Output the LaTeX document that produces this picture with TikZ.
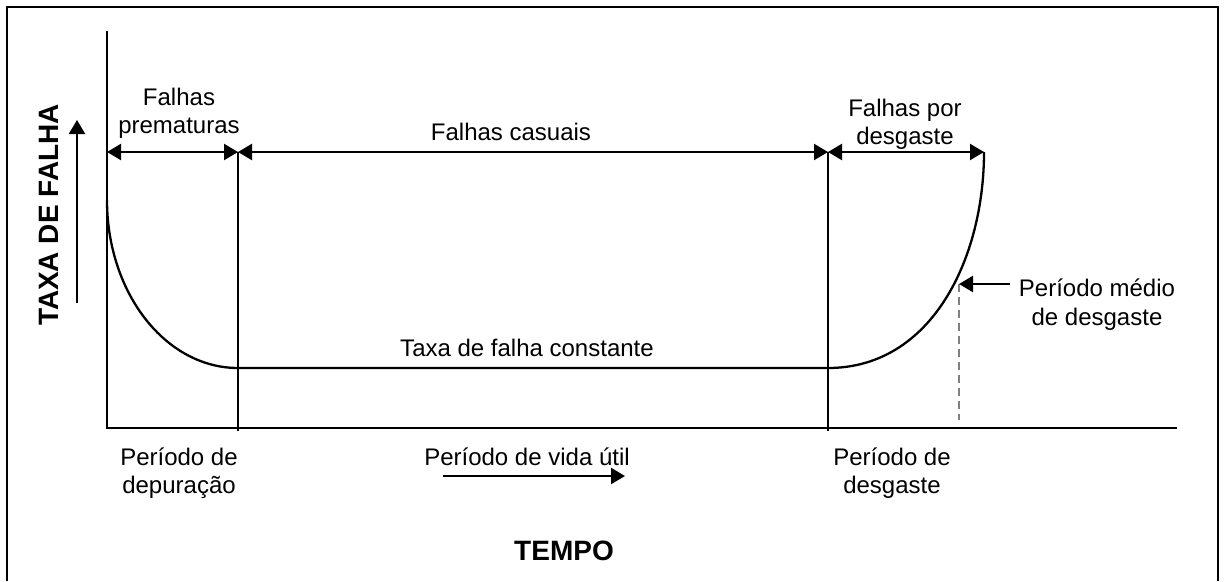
\documentclass[tikz,border=0pt]{standalone}
\usepackage{fontspec}
\setmainfont{Liberation Sans}
\usetikzlibrary{arrows.meta}
\begin{document}
\begin{tikzpicture}[x=1pt,y=-1pt,
  lbl/.style={anchor=base,inner sep=0pt,font=\fontsize{24}{28}\selectfont},
  blbl/.style={anchor=base,inner sep=0pt,font=\fontsize{28}{32}\selectfont\bfseries},
  ln/.style={line width=2.3pt},
  onetip/.style={-{Triangle[length=14pt,width=16pt]}},
  twotip/.style={{Triangle[length=14pt,width=16pt]}-{Triangle[length=14pt,width=16pt]}},
  guide/.style={line width=1.6pt,gray,dash pattern=on 8pt off 5pt}]
\useasboundingbox (0,0) rectangle (1226,581);
\fill[white] (0,0) rectangle (1226,581);
% frame (bottom edge cut off)
\coordinate (fbl) at (7,581);
\coordinate (ftl) at (7,7);
\coordinate (ftr) at (1218,7);
\coordinate (fbr) at (1218,581);
\draw[line width=2.8pt] (fbl) -- (ftl) -- (ftr) -- (fbr);
% axes
\coordinate (O) at (107,428);
\coordinate (Ytop) at (107,31);
\coordinate (Xend) at (1177,428);
\draw[ln] (Ytop) -- (O) -- (Xend);
% period boundaries
\coordinate (a0) at (107,152);
\coordinate (a1) at (238,152);
\coordinate (a2) at (828,152);
\coordinate (a3) at (984,152);
\coordinate (v1b) at (238,431);
\coordinate (v2b) at (828,431);
\draw[ln] (a1) -- (v1b);
\draw[ln] (a2) -- (v2b);
\draw[ln,twotip] (a0) -- (a1);
\draw[ln,twotip] (a1) -- (a2);
\draw[ln,twotip] (a2) -- (a3);
% bathtub curve
\coordinate (c0) at (107,200);
\coordinate (c1) at (238,368);
\coordinate (c2) at (828,368);
\draw[ln] (c0) .. controls (107,293) and (165.6,368) .. (c1) -- (c2)
  .. controls (932,368) and (984,258) .. (a3);
% mean wear-out period
\coordinate (m) at (959,284);
\coordinate (mb) at (959,420);
\coordinate (mt) at (1010,284);
\draw[guide] (m) -- (mb);
\draw[ln,onetip] (mt) -- (m);
% y-axis arrow
\coordinate (ya0) at (77,303);
\coordinate (ya1) at (77,120);
\draw[ln,onetip] (ya0) -- (ya1);
% useful life arrow
\coordinate (la0) at (443,476);
\coordinate (la1) at (625,476);
\draw[ln,onetip] (la0) -- (la1);
% labels
\node[lbl] (fp1) at (179,105) {Falhas};
\node[lbl] (fp2) at (179,133) {prematuras};
\node[lbl] (fc) at (511,140) {Falhas casuais};
\node[lbl] (fd1) at (905,116) {Falhas por};
\node[lbl] (fd2) at (905,144) {desgaste};
\node[lbl] (tc) at (527,356) {Taxa de falha constante};
\node[lbl] (pm1) at (1097,296) {Período médio};
\node[lbl] (pm2) at (1097,325) {de desgaste};
\node[lbl] (pd1) at (179,465) {Período de};
\node[lbl] (pd2) at (179,493) {depuração};
\node[lbl] (pv) at (527,465) {Período de vida útil};
\node[lbl] (pw1) at (892,465) {Período de};
\node[lbl] (pw2) at (892,493) {desgaste};
\node[blbl] (tempo) at (564,560) {TEMPO};
\node[blbl,rotate=90] (taxa) at (58,215) {TAXA DE FALHA};
\end{tikzpicture}
\end{document}
